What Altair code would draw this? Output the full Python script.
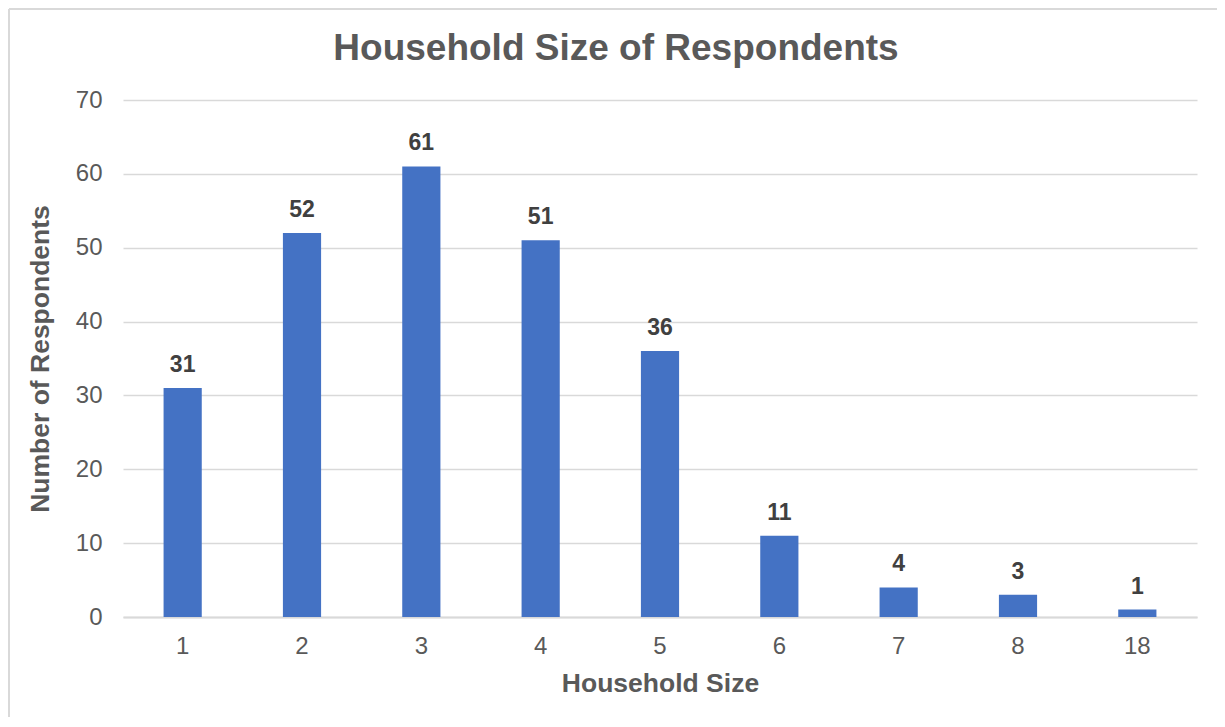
import altair as alt
import pandas as pd

sizes = ["1", "2", "3", "4", "5", "6", "7", "8", "18"]
counts = [31, 52, 61, 51, 36, 11, 4, 3, 1]
chart_title = ["Household Size of Respondents"]

df = pd.DataFrame({"size": sizes, "count": counts})
title_df = pd.DataFrame({"t": chart_title})

FONT = "Liberation Sans"
GRID = "#D9D9D9"

base = alt.Chart(df).encode(
    x=alt.X("size:N", sort=sizes, title="Household Size",
            scale=alt.Scale(paddingInner=0.68, paddingOuter=0.34),
            axis=alt.Axis(labelAngle=0, labelFontSize=24, labelColor="#595959",
                          labelFont=FONT, labelPadding=17, ticks=False,
                          domainColor=GRID, domainWidth=2,
                          titleFontSize=26.5, titleFont=FONT, titleColor="#595959",
                          titleFontWeight="bold", titlePadding=12)),
    y=alt.Y("count:Q", title="Number of Respondents",
            scale=alt.Scale(domain=[0, 70]),
            axis=alt.Axis(values=list(range(0, 71, 10)), labelFontSize=24,
                          labelColor="#595959", labelFont=FONT, labelPadding=21,
                          ticks=False, domain=False, gridColor=GRID,
                          gridWidth=1.5,
                          titleFontSize=26.5, titleFont=FONT, titleColor="#595959",
                          titleFontWeight="bold", titlePadding=21)),
)

bars = base.mark_bar(color="#4472C4")
labels = base.mark_text(baseline="alphabetic", dy=-16, fontSize=23, fontWeight="bold",
                        font=FONT, color="#404040").encode(text="count:Q")

title = alt.Chart(title_df).mark_text(
    fontSize=37, fontWeight="bold", font=FONT, color="#595959",
    align="center", baseline="middle").encode(
    text="t:N", x=alt.value(493), y=alt.value(-51))

# outer frame of the chart (left and top edges visible)
frame_left = alt.Chart(title_df).mark_rule(color=GRID, strokeWidth=2).encode(
    x=alt.value(-114), y=alt.value(-91), y2=alt.value(627))
frame_top = alt.Chart(title_df).mark_rule(color=GRID, strokeWidth=2).encode(
    x=alt.value(-114), x2=alt.value(1102), y=alt.value(-91))

chart = (frame_left + frame_top + bars + labels + title).properties(
    width=1074, height=517,
    autosize=alt.AutoSizeParams(type="none"),
    padding={"left": 115, "top": 92, "right": 20, "bottom": 100},
).configure(background="white").configure_view(stroke=None)

chart.save("out.html", embed_options={"renderer": "svg", "actions": False})
